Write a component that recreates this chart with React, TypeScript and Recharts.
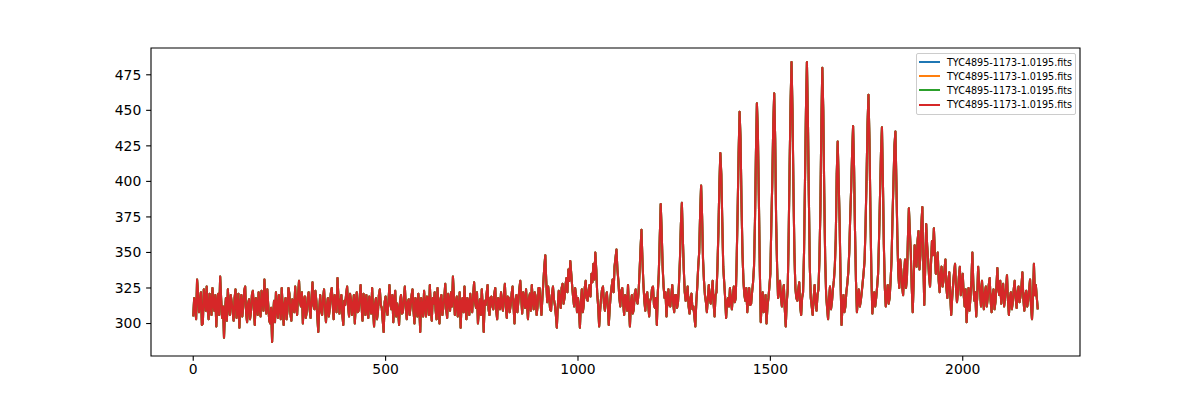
import React from "react";
import {
  LineChart,
  Line,
  XAxis,
  YAxis,
  ReferenceArea,
} from "recharts";

// light curve: one value every 5 time units starting at t = 0
const fluxOnGrid: number[] = [
  305, 312, 331, 308, 322, 300, 318, 326, 303, 316, 325, 309, 298, 321, 333, 304, 290, 318, 324, 306,
  315, 302, 324, 310, 297, 320, 312, 326, 301, 317, 308, 323, 299, 314, 322, 305, 318, 331, 307, 313,
  300, 287, 316, 322, 304, 311, 325, 299, 318, 309, 321, 302, 315, 326, 306, 330, 312, 300, 319, 308,
  322, 304, 329, 310, 316, 294, 320, 306, 324, 301, 318, 311, 325, 303, 315, 332, 307, 320, 299, 313,
  326, 305, 317, 312, 300, 322, 309, 327, 302, 316, 320, 304, 313, 325, 298, 318, 308, 324, 311, 294,
  319, 306, 327, 310, 301, 323, 314, 299, 320, 308, 326, 303, 317, 312, 324, 300, 315, 321, 294, 311,
  323, 305, 318, 327, 302, 314, 309, 325, 300, 320, 311, 328, 304, 316, 322, 333, 306, 319, 310, 297,
  318, 326, 303, 315, 321, 308, 329, 311, 300, 317, 324, 294, 313, 327, 306, 319, 310, 325, 303, 316,
  322, 309, 328, 304, 318, 313, 326, 300, 320, 315, 330, 307, 317, 324, 303, 321, 327, 310, 319, 312,
  325, 306, 329, 348, 315, 320, 309, 326, 313, 297, 323, 311, 328, 318, 332, 338, 344, 326, 312, 320,
  318, 297, 324, 313, 330, 316, 327, 335, 342, 350, 321, 298, 318, 326, 309, 322, 299, 320, 331, 340,
  352, 330, 312, 325, 306, 318, 327, 298, 320, 310, 324, 314, 336, 366, 328, 309, 322, 305, 318, 326,
  311, 299, 335, 384, 340, 318, 305, 324, 312, 327, 308, 320, 315, 345, 385, 338, 316, 326, 307, 321,
  312, 298, 326, 350, 397, 345, 320, 308, 327, 314, 330, 305, 322, 365, 420, 372, 329, 304, 318, 325,
  310, 326, 318, 380, 449, 385, 330, 316, 308, 325, 314, 329, 372, 455, 390, 301, 322, 310, 300, 318,
  335, 400, 462, 372, 318, 330, 312, 327, 298, 323, 410, 484, 395, 325, 316, 329, 306, 322, 400, 484,
  390, 318, 306, 327, 309, 324, 380, 480, 392, 320, 303, 326, 315, 330, 360, 428, 372, 299, 320, 312,
  328, 350, 395, 439, 365, 308, 324, 316, 329, 345, 402, 461, 380, 307, 322, 318, 335, 390, 438, 355,
  312, 327, 318, 345, 400, 435, 362, 325, 338, 320, 345, 332, 381, 350, 308, 355, 340, 365, 348, 382,
  313, 370, 345, 326, 358, 367, 335, 350, 322, 340, 330, 345, 318, 336, 306, 328, 342, 315, 333, 320,
  335, 312, 301, 325, 318, 350, 316, 305, 340, 322, 330, 310, 326, 318, 332, 308, 324, 315, 339, 320,
  314, 328, 318, 334, 306, 322, 315, 330, 311, 326, 319, 336, 309, 323, 316, 331, 303, 342, 327, 310,
];

// the samples in between, at t = 2.5, 7.5, 12.5, ...
const fluxBetween: number[] = [
  318, 303, 322, 314, 299, 324, 309, 310, 321, 306, 313, 320, 315, 306, 318, 312, 309, 302, 312, 320,
  308, 318, 304, 321, 313, 305, 323, 307, 314, 303, 320, 311, 318, 306, 311, 323, 309, 316, 324, 302,
  311, 305, 301, 310, 320, 303, 312, 314, 303, 325, 307, 317, 308, 312, 320, 315, 322, 316, 304, 318,
  310, 318, 313, 323, 305, 310, 309, 318, 311, 313, 305, 321, 314, 320, 308, 318, 315, 306, 316, 321,
  312, 321, 306, 320, 314, 308, 318, 312, 321, 306, 311, 319, 307, 309, 314, 303, 320, 313, 302, 315,
  309, 316, 314, 320, 315, 305, 309, 316, 307, 318, 312, 315, 306, 320, 309, 318, 305, 312, 318, 305,
  312, 319, 306, 310, 318, 322, 303, 312, 317, 306, 318, 310, 321, 309, 312, 320, 314, 305, 322, 315,
  308, 312, 318, 306, 313, 320, 315, 322, 310, 306, 312, 316, 321, 310, 318, 312, 321, 309, 318, 310,
  314, 320, 312, 319, 308, 321, 312, 316, 308, 324, 318, 322, 311, 313, 318, 309, 316, 322, 306, 325,
  315, 318, 340, 330, 326, 310, 321, 317, 306, 312, 317, 325, 314, 327, 322, 330, 335, 318, 325, 308,
  310, 315, 308, 325, 318, 323, 319, 329, 331, 338, 312, 309, 324, 314, 318, 313, 311, 326, 322, 346,
  338, 318, 323, 314, 320, 309, 312, 315, 307, 321, 316, 322, 352, 345, 316, 320, 313, 316, 325, 313,
  318, 322, 360, 365, 326, 322, 316, 313, 320, 314, 320, 311, 328, 370, 360, 322, 319, 312, 318, 310,
  305, 315, 340, 378, 376, 330, 315, 318, 317, 322, 314, 320, 340, 398, 405, 340, 318, 315, 312, 316,
  320, 315, 345, 420, 430, 350, 320, 325, 318, 313, 322, 340, 420, 435, 340, 315, 308, 320, 312, 326,
  370, 440, 430, 340, 324, 318, 322, 310, 315, 360, 455, 450, 350, 318, 324, 312, 318, 350, 450, 445,
  340, 312, 318, 315, 320, 345, 440, 450, 345, 311, 318, 310, 324, 340, 405, 400, 330, 312, 308, 322,
  336, 375, 420, 410, 330, 318, 312, 322, 336, 370, 440, 430, 335, 316, 312, 326, 360, 420, 400, 325,
  320, 314, 330, 375, 425, 400, 335, 345, 326, 335, 325, 360, 365, 325, 330, 348, 358, 338, 370, 345,
  340, 355, 333, 342, 348, 350, 342, 330, 335, 326, 338, 325, 330, 320, 318, 336, 325, 322, 340, 326,
  320, 324, 314, 309, 330, 328, 322, 318, 328, 312, 318, 322, 312, 327, 316, 320, 310, 326, 324, 330,
  322, 312, 325, 316, 318, 310, 324, 318, 322, 315, 326, 318, 320, 312, 324, 312, 318, 320, 318,
];
const gridStep = 5;

const seriesNames = [
  "TYC4895-1173-1.0195.fits",
  "TYC4895-1173-1.0195.fits",
  "TYC4895-1173-1.0195.fits",
  "TYC4895-1173-1.0195.fits",
];
const seriesKeys = ["s0", "s1", "s2", "s3"];
const colors = ["#1f77b4", "#ff7f0e", "#2ca02c", "#d62728"];

const xTicks = [0, 500, 1000, 1500, 2000];
const yTicks = [300, 325, 350, 375, 400, 425, 450, 475];
const xDomain = [-109.75, 2304.75];
const yDomain = [277.15, 493.85];

// merge both sample sets in time order; all four files hold the same light curve
const data: Record<string, number>[] = [];
fluxOnGrid.forEach((v, i) => {
  data.push({ t: i * gridStep, s0: v, s1: v, s2: v, s3: v });
  if (i < fluxBetween.length) {
    const m = fluxBetween[i];
    data.push({ t: i * gridStep + gridStep / 2, s0: m, s1: m, s2: m, s3: m });
  }
});

const font = "'DejaVu Sans', sans-serif";
const tickStyle = { fill: "#000", fontSize: 13.9, fontFamily: font };

export default function App() {
  return (
    <div style={{ position: "absolute", left: 0, top: 0, width: 1200, height: 400, background: "#fff" }}>
      <LineChart
        width={1200}
        height={400}
        data={data}
        margin={{ top: 48, right: 120, bottom: 14, left: 91 }}
      >
        <XAxis
          dataKey="t"
          type="number"
          domain={xDomain}
          ticks={xTicks}
          height={30}
          tickSize={4.86}
          tickMargin={3.5}
          tick={tickStyle}
          tickLine={{ stroke: "#000", strokeWidth: 1.1 }}
          axisLine={false}
          allowDataOverflow
        />
        <YAxis
          type="number"
          domain={yDomain}
          ticks={yTicks}
          width={60}
          tickSize={4.86}
          tickMargin={4.86}
          tick={tickStyle}
          tickLine={{ stroke: "#000", strokeWidth: 1.1 }}
          axisLine={false}
          allowDataOverflow
        />
        {seriesKeys.map((k, i) => (
          <Line
            key={k}
            dataKey={k}
            name={seriesNames[i]}
            stroke={colors[i]}
            strokeWidth={2.08}
            strokeLinejoin="round"
            dot={false}
            type="linear"
            isAnimationActive={false}
          />
        ))}
        <ReferenceArea
          x1={xDomain[0]}
          x2={xDomain[1]}
          y1={yDomain[0]}
          y2={yDomain[1]}
          fill="none"
          stroke="#000"
          strokeWidth={1.1}
          ifOverflow="visible"
        />
      </LineChart>
      <div
        style={{
          position: "absolute",
          left: 916,
          top: 53,
          width: 158,
          height: 60,
          border: "1px solid #cccccc",
          borderRadius: 2,
          background: "rgba(255,255,255,0.8)",
          fontFamily: font,
          fontSize: 9.6,
        }}
      >
        {seriesNames.map((n, i) => (
          <div
            key={i}
            style={{
              position: "absolute",
              left: 2,
              top: 1 + i * 14.2,
              height: 14,
              display: "flex",
              alignItems: "center",
              whiteSpace: "nowrap",
            }}
          >
            <span style={{ display: "inline-block", width: 21, height: 2, background: colors[i], marginRight: 7 }} />
            <span style={{ color: "#000" }}>{n}</span>
          </div>
        ))}
      </div>
    </div>
  );
}
